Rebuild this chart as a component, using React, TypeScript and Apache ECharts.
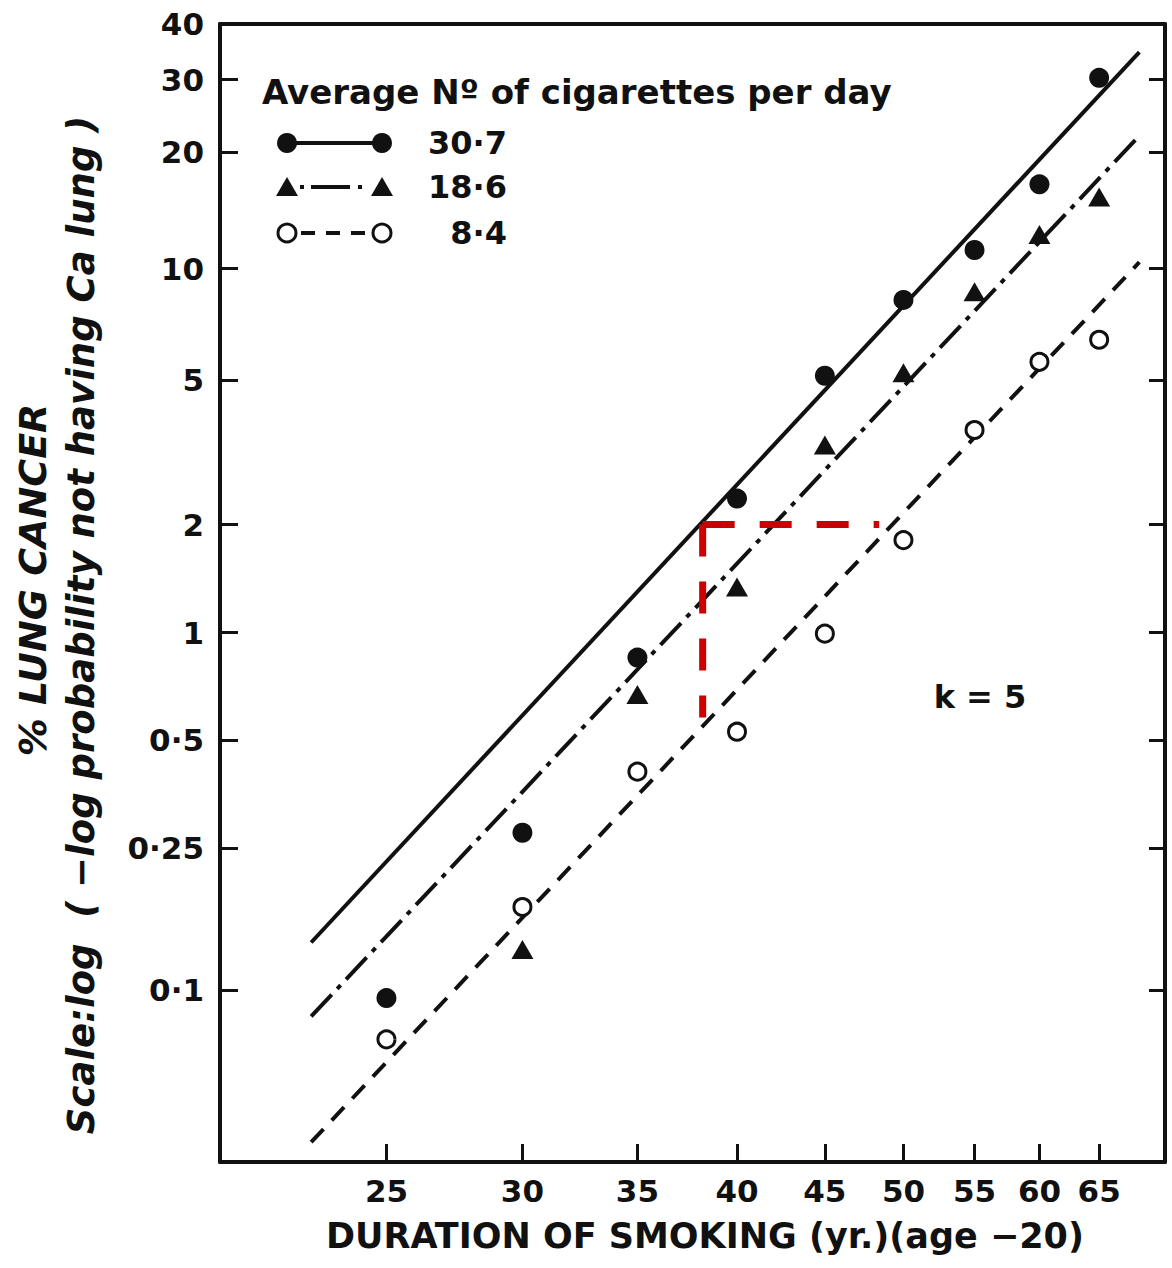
import React, { useEffect, useRef } from "react";
import * as echarts from "echarts";

// ---------- data ----------
const durations = [25, 30, 35, 40, 45, 50, 55, 60, 65];
const heavyPct = [0.095, 0.276, 0.852, 2.36, 5.14, 8.25, 11.2, 16.6, 30.3]; // 30·7 cig/day
const mediumDur = [30, 35, 40, 45, 50, 55, 60, 65];
const mediumPct = [0.13, 0.672, 1.34, 3.32, 5.24, 8.67, 12.3, 15.4]; // 18·6 cig/day
const lightPct = [0.0728, 0.171, 0.409, 0.529, 0.994, 1.81, 3.65, 5.61, 6.44]; // 8·4 cig/day

const fitDur = [22.6, 68.6];
const heavyFit = [0.136, 34.7];
const mediumFit = [0.0844, 22.0];
const lightFit = [0.0375, 10.4];

const annotHDur = [38.2, 48.4];
const annotHPct = [2, 2];
const annotVDur = [38.2, 38.2];
const annotVPct = [2, 0.58];

const xTicks = [25, 30, 35, 40, 45, 50, 55, 60, 65];
const yTickPct = [40, 30, 20, 10, 5, 2, 1, 0.5, 0.25, 0.1];
const yTickLabels = ["40", "30", "20", "10", "5", "2", "1", "0·5", "0·25", "0·1"];
const X_MIN = 20;
const X_MAX = 71;
const Y_MIN_PCT = 0.033;
const Y_MAX_PCT = 40;

const legendTitle = "Average N\u00BA of cigarettes per day";
const legendLabels = ["30·7", "18·6", "8·4"];

// ---------- scales ----------
const tx = (d: number) => Math.log10(d);
const ty = (p: number) => Math.log10(-Math.log(1 - p / 100));

const INK = "#111111";
const RED = "#cc0000";
const FONT = '"DejaVu Sans", sans-serif';

const pairs = (xs: number[], ys: number[]) => xs.map((d, i) => [tx(d), ty(ys[i])]);

export default function App() {
  const ref = useRef<HTMLDivElement>(null);
  useEffect(() => {
    document.body.style.margin = "0";
    document.body.style.overflow = "hidden";
    const chart = echarts.init(ref.current!, undefined, { renderer: "svg" });

    const yVals = yTickPct.map(ty);
    const xVals = xTicks.map(tx);
    const yFmt = (v: number) => {
      const i = yVals.findIndex((t) => Math.abs(t - v) < 1e-4);
      return i >= 0 ? yTickLabels[i] : "";
    };
    const axisLineStyle = { color: INK, width: 4 };
    const labelStyle = { fontFamily: FONT, fontWeight: "bold" as const, fontSize: 31, color: INK };

    const legendRows = [143, 187, 233];
    const lx1 = 287;
    const lx2 = 382;

    chart.setOption({
      animation: false,
      backgroundColor: "#ffffff",
      grid: { left: 220, right: 7, top: 24, bottom: 106 },
      xAxis: [
        {
          type: "value",
          position: "bottom",
          min: tx(X_MIN),
          max: tx(X_MAX),
          axisLine: { show: true, onZero: false, lineStyle: axisLineStyle },
          axisTick: { show: true, inside: true, length: 18, customValues: xVals, lineStyle: { color: INK, width: 3 } },
          axisLabel: { customValues: xVals, margin: 13, formatter: (v: number) => String(Math.round(Math.pow(10, v))), ...labelStyle },
          splitLine: { show: false },
        },
        {
          type: "value",
          position: "top",
          min: tx(X_MIN),
          max: tx(X_MAX),
          axisLine: { show: true, onZero: false, lineStyle: axisLineStyle },
          axisTick: { show: false },
          axisLabel: { show: false },
          splitLine: { show: false },
        },
      ],
      yAxis: [
        {
          type: "value",
          position: "left",
          min: ty(Y_MIN_PCT),
          max: ty(Y_MAX_PCT),
          axisLine: { show: true, onZero: false, lineStyle: axisLineStyle },
          axisTick: { show: true, inside: true, length: 18, customValues: yVals, lineStyle: { color: INK, width: 3 } },
          axisLabel: { customValues: yVals, margin: 16, formatter: yFmt, showMaxLabel: true, showMinLabel: true, ...labelStyle },
          splitLine: { show: false },
        },
        {
          type: "value",
          position: "right",
          min: ty(Y_MIN_PCT),
          max: ty(Y_MAX_PCT),
          axisLine: { show: true, onZero: false, lineStyle: axisLineStyle },
          axisTick: { show: true, inside: true, length: 16, customValues: yVals, lineStyle: { color: INK, width: 3 } },
          axisLabel: { show: false },
          splitLine: { show: false },
        },
      ],
      series: [
        {
          name: "fit 30·7",
          type: "line",
          data: pairs(fitDur, heavyFit),
          symbol: "none",
          lineStyle: { color: INK, width: 4, type: "solid" },
          z: 2,
        },
        {
          name: "fit 18·6",
          type: "line",
          data: pairs(fitDur, mediumFit),
          symbol: "none",
          lineStyle: { color: INK, width: 4, type: [30, 8, 5, 8] },
          z: 2,
        },
        {
          name: "fit 8·4",
          type: "line",
          data: pairs(fitDur, lightFit),
          symbol: "none",
          lineStyle: { color: INK, width: 4, type: [18, 12] },
          z: 2,
        },
        {
          name: "30·7",
          type: "scatter",
          data: pairs(durations, heavyPct),
          symbol: "circle",
          symbolSize: 20,
          itemStyle: { color: INK, opacity: 1 },
          z: 3,
        },
        {
          name: "18·6",
          type: "scatter",
          data: pairs(mediumDur, mediumPct),
          symbol: "triangle",
          symbolSize: [22, 19],
          itemStyle: { color: INK, opacity: 1 },
          z: 3,
        },
        {
          name: "8·4",
          type: "scatter",
          data: pairs(durations, lightPct),
          symbol: "circle",
          symbolSize: 17,
          itemStyle: { color: "#ffffff", borderColor: INK, borderWidth: 3, opacity: 1 },
          z: 3,
        },
        {
          name: "annotation h",
          type: "line",
          data: pairs(annotHDur, annotHPct),
          symbol: "none",
          lineStyle: { color: RED, width: 7, type: [32, 25], cap: "butt" },
          z: 4,
        },
        {
          name: "annotation v",
          type: "line",
          data: pairs(annotVDur, annotVPct),
          symbol: "none",
          lineStyle: { color: RED, width: 7, type: [32, 25], cap: "butt" },
          z: 4,
        },
      ],
      graphic: [
        // legend title
        {
          type: "text",
          x: 262,
          y: 92,
          style: { text: legendTitle, font: `bold 34px ${FONT}`, fill: INK, textAlign: "left", textVerticalAlign: "middle" },
        },
        // row 1: filled circles, solid line
        { type: "line", shape: { x1: lx1, y1: legendRows[0], x2: lx2, y2: legendRows[0] }, style: { stroke: INK, lineWidth: 4 } },
        { type: "circle", shape: { cx: lx1, cy: legendRows[0], r: 10 }, style: { fill: INK } },
        { type: "circle", shape: { cx: lx2, cy: legendRows[0], r: 10 }, style: { fill: INK } },
        // row 2: triangles, dot-dash-dot
        { type: "line", shape: { x1: 300, y1: legendRows[1], x2: 304, y2: legendRows[1] }, style: { stroke: INK, lineWidth: 4 } },
        { type: "line", shape: { x1: 311, y1: legendRows[1], x2: 350, y2: legendRows[1] }, style: { stroke: INK, lineWidth: 4 } },
        { type: "line", shape: { x1: 358, y1: legendRows[1], x2: 362, y2: legendRows[1] }, style: { stroke: INK, lineWidth: 4 } },
        { type: "polygon", shape: { points: [[lx1 - 11, legendRows[1] + 9], [lx1 + 11, legendRows[1] + 9], [lx1, legendRows[1] - 10]] }, style: { fill: INK } },
        { type: "polygon", shape: { points: [[lx2 - 11, legendRows[1] + 9], [lx2 + 11, legendRows[1] + 9], [lx2, legendRows[1] - 10]] }, style: { fill: INK } },
        // row 3: open circles, dashed
        { type: "line", shape: { x1: 301, y1: legendRows[2], x2: 315, y2: legendRows[2] }, style: { stroke: INK, lineWidth: 4 } },
        { type: "line", shape: { x1: 326, y1: legendRows[2], x2: 340, y2: legendRows[2] }, style: { stroke: INK, lineWidth: 4 } },
        { type: "line", shape: { x1: 351, y1: legendRows[2], x2: 365, y2: legendRows[2] }, style: { stroke: INK, lineWidth: 4 } },
        { type: "circle", shape: { cx: lx1, cy: legendRows[2], r: 9 }, style: { fill: "#ffffff", stroke: INK, lineWidth: 3 } },
        { type: "circle", shape: { cx: lx2, cy: legendRows[2], r: 9 }, style: { fill: "#ffffff", stroke: INK, lineWidth: 3 } },
        // legend numbers
        ...legendLabels.map((t, i) => ({
          type: "text",
          x: 507,
          y: legendRows[i],
          style: { text: t, font: `bold 32px ${FONT}`, fill: INK, textAlign: "right", textVerticalAlign: "middle" },
        })),
        // k = 5
        {
          type: "text",
          x: 980,
          y: 697,
          style: { text: "k = 5", font: `bold 32px ${FONT}`, fill: INK, textAlign: "center", textVerticalAlign: "middle" },
        },
        // x axis title
        {
          type: "text",
          x: 705,
          y: 1236,
          style: { text: "DURATION OF SMOKING (yr.)(age −20)", font: `bold 35px ${FONT}`, fill: INK, textAlign: "center", textVerticalAlign: "middle" },
        },
        // y axis titles
        {
          type: "text",
          x: 33,
          y: 580,
          rotation: Math.PI / 2,
          style: { text: "% LUNG CANCER", font: `italic bold 38px ${FONT}`, fill: INK, textAlign: "center", textVerticalAlign: "middle" },
        },
        {
          type: "text",
          x: 81,
          y: 625,
          rotation: Math.PI / 2,
          style: { text: "Scale:log  ( −log probability not having Ca lung )", font: `italic bold 37px ${FONT}`, fill: INK, textAlign: "center", textVerticalAlign: "middle" },
        },
      ],
    });
    return () => chart.dispose();
  }, []);
  return <div ref={ref} style={{ width: 1172, height: 1268 }} />;
}
